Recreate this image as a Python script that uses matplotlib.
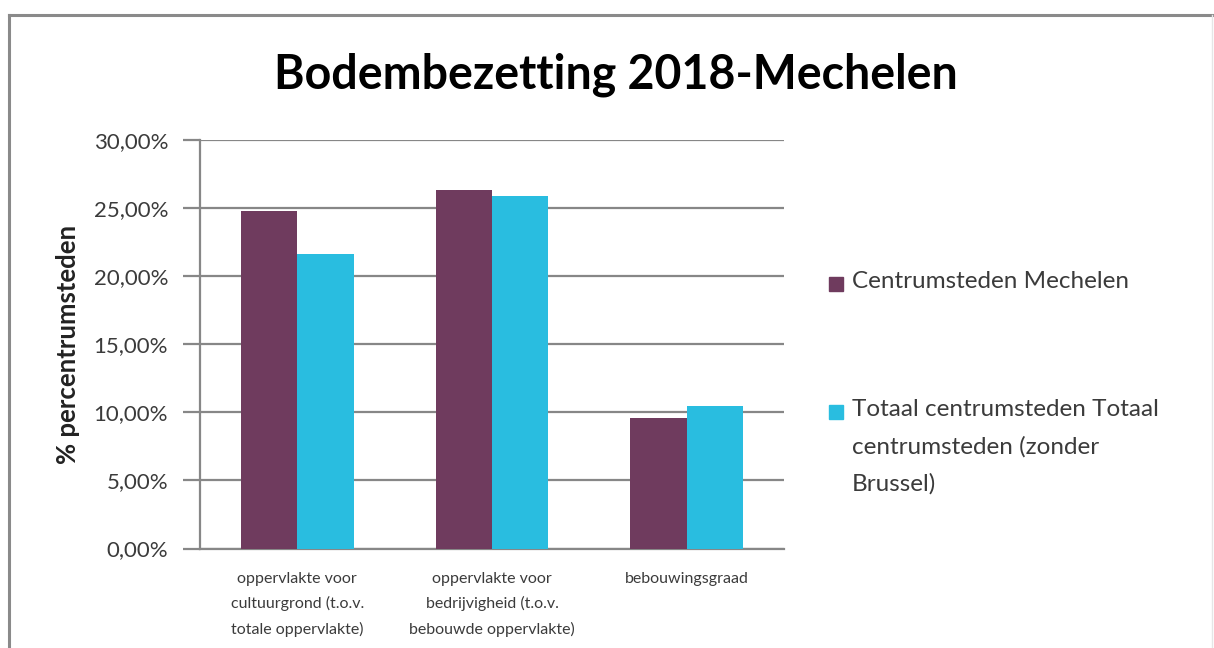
import numpy as np
import matplotlib
matplotlib.use('Agg')
from matplotlib import pyplot as plt
from matplotlib.lines import Line2D
from matplotlib.patches import Rectangle

plt.rcParams['font.family'] = ['Lato', 'DejaVu Sans']

categories = ['oppervlakte voor\ncultuurgrond (t.o.v.\ntotale oppervlakte)',
              'oppervlakte voor\nbedrijvigheid (t.o.v.\nbebouwde oppervlakte)',
              'bebouwingsgraad']
mechelen = [24.8, 26.3, 9.56]
totaal = [21.6, 25.9, 10.45]
series_names = ['Centrumsteden Mechelen',
                'Totaal centrumsteden Totaal\ncentrumsteden (zonder\nBrussel)']
yticks = [0, 5, 10, 15, 20, 25, 30]

purple = '#6f3b5e'
cyan = '#29bde0'
grey = '#878787'
textcol = '#3b3b3b'

fig = plt.figure(figsize=(12.14, 6.48), dpi=100)
ax = fig.add_axes([200 / 1214, 1 - 548.5 / 648, 584 / 1214, 408.5 / 648])

x = np.arange(len(categories))
w = 0.29
ax.bar(x - w / 2, mechelen, w, color=purple, zorder=3)
ax.bar(x + w / 2, totaal, w, color=cyan, zorder=3)

ax.set_xlim(-0.5, 2.5)
ax.set_ylim(0, 30)
ax.set_yticks(yticks)
ax.set_yticklabels([('%.2f%%' % v).replace('.', ',') for v in yticks])
ax.set_xticks(x)
ax.set_xticklabels(categories, fontsize=11.5, color=textcol, linespacing=1.85, va='top')

ax.yaxis.grid(True, color=grey, linewidth=1.6, zorder=0)
ax.tick_params(axis='y', length=12, width=1.6, color=grey, pad=11,
               labelsize=16, labelcolor=textcol)
ax.tick_params(axis='x', length=0, pad=17)
for s in ['top', 'right']:
    ax.spines[s].set_visible(False)
ax.spines['left'].set_color(grey)
ax.spines['left'].set_linewidth(1.6)
ax.spines['bottom'].set_color(grey)
ax.spines['bottom'].set_linewidth(1.6)

ax.set_ylabel('% percentrumsteden', fontsize=18.5, fontweight='bold', color='#222222')
ax.yaxis.set_label_coords(-0.205, 0.5)

fig.text(0.507, 0.884, 'Bodembezetting 2018-Mechelen', ha='center', va='center',
         fontsize=33.5, fontweight='bold', color='black')

# legend drawn by hand so the square sits at the first line of each entry
W, H = 1214, 648
for col, name, yc in [(purple, series_names[0], 284), (cyan, series_names[1], 412)]:
    fig.patches.append(Rectangle((829 / W, 1 - (yc + 7) / H), 14 / W, 14 / H,
                                 transform=fig.transFigure, color=col, figure=fig))
    fig.text(852 / W, 1 - (yc - 13) / H, name, ha='left', va='top', fontsize=17.5,
             color=textcol, linespacing=1.9)

# outer frame
fig.add_artist(Line2D([9 / W, 1], [1 - 15 / H, 1 - 15 / H], color='#8a8a8a', linewidth=2.2,
                      transform=fig.transFigure))
fig.add_artist(Line2D([9 / W, 9 / W], [0, 1 - 15 / H], color='#8a8a8a', linewidth=2.2,
                      transform=fig.transFigure))
fig.add_artist(Line2D([1212 / W, 1212 / W], [0, 1 - 15 / H], color='#e6e6e6', linewidth=1,
                      transform=fig.transFigure))

fig.savefig('out.png', dpi=100)
